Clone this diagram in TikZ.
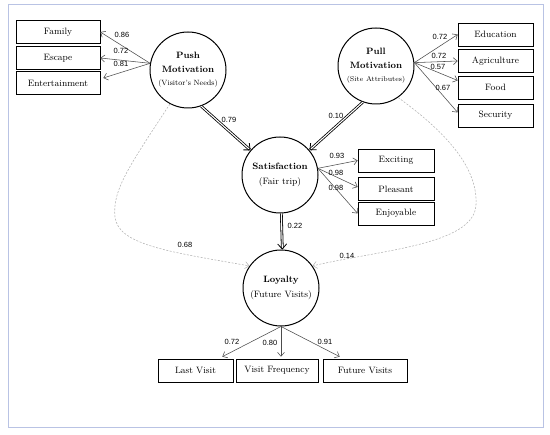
\documentclass[tikz,border=0pt]{standalone}
\usepackage{fontspec}
\newfontfamily\numfont{Liberation Sans}
\usetikzlibrary{arrows.meta, calc}
\definecolor{framec}{RGB}{185,195,228}

\tikzset{
  latent/.style={draw, circle, line width=1pt, minimum size=76pt, inner sep=0pt, align=center, font=\fontsize{9.2}{11}\selectfont},
  item/.style={draw, line width=0.6pt, minimum height=23pt, inner sep=1pt, font=\fontsize{9.2}{11}\selectfont},
  lbl/.style={font=\numfont\fontsize{7.5}{9}\selectfont, inner sep=0pt},
  load/.style={draw=black!70, line width=0.55pt, -{Straight Barb[length=4pt,width=7pt]}},
  struct/.style={draw, double, double distance=1.1pt, line width=0.8pt, -{Straight Barb[length=5pt,width=9pt]}},
  direct/.style={draw=black!30, dash pattern=on 2pt off 1.5pt, line width=0.55pt, -{Straight Barb[length=4pt,width=7pt]}}
}

\begin{document}
\begin{tikzpicture}[x=1pt, y=-1pt]
\useasboundingbox (0,0) rectangle (550,435);
\draw[framec, line width=1pt] (8,5) rectangle (543,428);

% latent variables
\node[latent] (push) at (188,70) {\textbf{Push}\\[3pt]\textbf{Motivation}\\[2pt]{\fontsize{7.6}{9}\selectfont (Visitor's Needs)}};
\node[latent] (pull) at (376,66) {\textbf{Pull}\\[3pt]\textbf{Motivation}\\[2pt]{\fontsize{7}{9}\selectfont (Site Attributes)}};
\node[latent] (sat) at (280,175) {\textbf{Satisfaction}\\[4pt](Fair trip)};
\node[latent] (loy) at (281,288) {\textbf{Loyalty}\\[4pt](Future Visits)};

% indicators
\node[item, minimum width=84pt] (fam) at (58,32) {Family};
\node[item, minimum width=84pt] (esc) at (58,58) {Escape};
\node[item, minimum width=84pt] (ent) at (58,83) {Entertainment};
\node[item, minimum width=75pt] (edu) at (495.5,34.5) {Education};
\node[item, minimum width=75pt] (agr) at (495.5,61) {Agriculture};
\node[item, minimum width=75pt] (food) at (495.5,87.5) {Food};
\node[item, minimum width=75pt] (sec) at (495.5,115.5) {Security};
\node[item, minimum width=76pt] (exc) at (396,160.5) {Exciting};
\node[item, minimum width=76pt] (ple) at (396,189) {Pleasant};
\node[item, minimum width=76pt] (enj) at (396,213.5) {Enjoyable};
\node[item, minimum width=75pt] (last) at (195.5,370.5) {Last Visit};
\node[item, minimum width=82pt] (freq) at (277,370.5) {Visit Frequency};
\node[item, minimum width=84pt] (fut) at (365,370.5) {Future Visits};

% loadings
\draw[load] (push.170) -- (fam.east);
\draw[load] (push.170) -- (esc.east);
\draw[load] (push.170) -- ($(ent.east)+(3,-5)$);
\draw[load] (pull.5) -- (edu.west);
\draw[load] (pull.5) -- (agr.west);
\draw[load] (pull.5) -- ($(food.west)+(0,-7)$);
\draw[load] (pull.5) -- ($(sec.west)+(0,-3)$);
\draw[load] (sat.10) -- (exc.west);
\draw[load] (sat.10) -- ($(ple.west)+(0,-2)$);
\draw[load] (sat.10) -- (enj.west);
\draw[load] (loy.south) -- ($(last.north east)+(-11,-2)$);
\draw[load] (loy.south) -- ($(freq.north)+(4,-2)$);
\draw[load] (loy.south) -- ($(fut.north west)+(17,-2)$);

\node[lbl] (l1) at (122,35) {0.86};
\node[lbl] (l2) at (121,51) {0.72};
\node[lbl] (l3) at (121,64) {0.81};
\node[lbl] (l4) at (440,37) {0.72};
\node[lbl] (l5) at (439,56) {0.72};
\node[lbl] (l6) at (438,67) {0.57};
\node[lbl] (l7) at (443,88) {0.67};
\node[lbl] (l8) at (337,156) {0.93};
\node[lbl] (l9) at (336,173) {0.98};
\node[lbl] (l10) at (336,188) {0.98};
\node[lbl] (l11) at (232,342) {0.72};
\node[lbl] (l12) at (270,343) {0.80};
\node[lbl] (l13) at (325,342) {0.91};

% structural paths
\draw[struct] (push.-70) -- (sat.140);
\draw[struct] (pull.-110) -- (sat.40);
\draw[struct] (sat.-88) -- (loy.88);
\node[lbl] (p1) at (229,120) {0.79};
\node[lbl] (p2) at (336,116) {0.10};
\node[lbl] (p3) at (295,226) {0.22};

% direct effects
\coordinate (bendL) at (115,217);
\coordinate (bendR) at (476,205);
\draw[direct] (push.-118) .. controls (130,165) and (112,190) .. (bendL)
  .. controls (118,245) and (170,252) .. (loy.145);
\draw[direct] (pull.-55) .. controls (450,135) and (478,170) .. (bendR)
  .. controls (474,245) and (380,250) .. (loy.35);
\node[lbl] (p4) at (185,245) {0.68};
\node[lbl] (p5) at (347,256) {0.14};
\end{tikzpicture}
\end{document}
